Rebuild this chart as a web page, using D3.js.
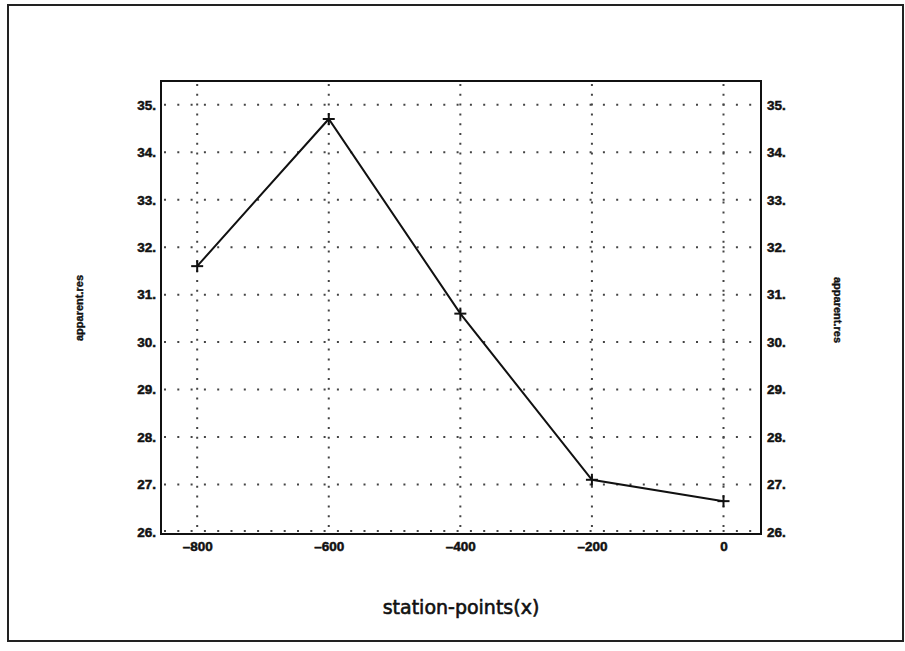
<!DOCTYPE html>
<html>
<head>
<meta charset="utf-8">
<script src="https://cdn.jsdelivr.net/npm/d3@7"></script>
<style>
  html, body { margin: 0; padding: 0; background: #fff; }
  svg { display: block; }
</style>
</head>
<body>
<script>
// ---- data ----
const stations = [-800, -600, -400, -200, 0];
const apparentRes = [31.6, 34.7, 30.6, 27.1, 26.65];
const xTicks = [-800, -600, -400, -200, 0];
const yTicks = [26, 27, 28, 29, 30, 31, 32, 33, 34, 35];
const xTitle = "station-points(x)";
const yTitleLeft = "apparent.res";
const yTitleRight = "apparent.res";

const W = 905, H = 651;
const L = 161, R = 761, T = 81, B = 532;

const svg = d3.select("body").append("svg").attr("width", W).attr("height", H);

// outer frame
svg.append("rect").attr("x", 8).attr("y", 5).attr("width", 895).attr("height", 636)
  .attr("fill", "none").attr("stroke", "#222").attr("stroke-width", 2);

const x = d3.scaleLinear().domain([-855, 57]).range([L, R]);
const y = d3.scaleLinear().domain([26, 35.5]).range([B, T]);

// grid
const grid = svg.append("g").attr("stroke", "#444").attr("stroke-linecap", "butt");
grid.selectAll("line.h").data(yTicks).join("line").attr("class", "h")
  .attr("x1", L + 3).attr("x2", R).attr("y1", d => y(d) - (d === 26 ? 1 : 0)).attr("y2", d => y(d) - (d === 26 ? 1 : 0))
  .attr("stroke-dasharray", "2,11.3").attr("stroke-width", 2);
grid.selectAll("line.v").data(xTicks).join("line").attr("class", "v")
  .attr("x1", d => x(d)).attr("x2", d => x(d)).attr("y1", T + 3).attr("y2", B)
  .attr("stroke-dasharray", "2,7.8").attr("stroke-width", 2);

// axes frame
svg.append("rect").attr("x", L).attr("y", T).attr("width", R - L).attr("height", B - T + 2)
  .attr("fill", "none").attr("stroke", "#111").attr("stroke-width", 2);

// tick labels via axes
const fontTick = "'Liberation Sans', Arial, sans-serif";
const axL = svg.append("g").attr("transform", `translate(${L},0)`)
  .call(d3.axisLeft(y).tickValues(yTicks).tickSize(0).tickPadding(5).tickFormat(d => d + "."));
const axR = svg.append("g").attr("transform", `translate(${R},0)`)
  .call(d3.axisRight(y).tickValues(yTicks).tickSize(0).tickPadding(6).tickFormat(d => d + "."));
const axB = svg.append("g").attr("transform", `translate(0,${B})`)
  .call(d3.axisBottom(x).tickValues(xTicks).tickSize(0).tickPadding(9).tickFormat(d => d < 0 ? "\u2013" + Math.abs(d) : String(d)));
[axL, axR, axB].forEach(g => {
  g.select(".domain").remove();
  g.selectAll("text").attr("font-family", fontTick).attr("font-weight", "bold")
    .attr("font-size", 13.5).attr("fill", "#111")
    .attr("stroke", "#111").attr("stroke-width", 0.5);
});

// line
const line = d3.line().x((d, i) => x(stations[i])).y(d => y(d));
svg.append("path").datum(apparentRes).attr("d", line)
  .attr("fill", "none").attr("stroke", "#111").attr("stroke-width", 2);

// plus markers
const mk = svg.append("g").attr("stroke", "#111").attr("stroke-width", 2);
apparentRes.forEach((v, i) => {
  const cx = x(stations[i]), cy = y(v);
  mk.append("line").attr("x1", cx - 6).attr("x2", cx + 6).attr("y1", cy).attr("y2", cy);
  mk.append("line").attr("x1", cx).attr("x2", cx).attr("y1", cy - 6).attr("y2", cy + 6);
});

// titles
svg.append("text").attr("x", (L + R) / 2).attr("y", 614).attr("text-anchor", "middle")
  .attr("font-family", "'DejaVu Sans', sans-serif").attr("font-size", 19).attr("fill", "#111")
  .attr("stroke", "#111").attr("stroke-width", 0.6)
  .text(xTitle);
svg.append("text").attr("transform", `translate(83,308) rotate(-90)`).attr("text-anchor", "middle")
  .attr("font-family", fontTick).attr("font-weight", "bold").attr("font-size", 11).attr("fill", "#111")
  .attr("stroke", "#111").attr("stroke-width", 0.4)
  .text(yTitleLeft);
svg.append("text").attr("transform", `translate(834,310) rotate(90)`).attr("text-anchor", "middle")
  .attr("font-family", fontTick).attr("font-weight", "bold").attr("font-size", 11).attr("fill", "#111")
  .attr("stroke", "#111").attr("stroke-width", 0.4)
  .text(yTitleRight);
</script>
</body>
</html>
